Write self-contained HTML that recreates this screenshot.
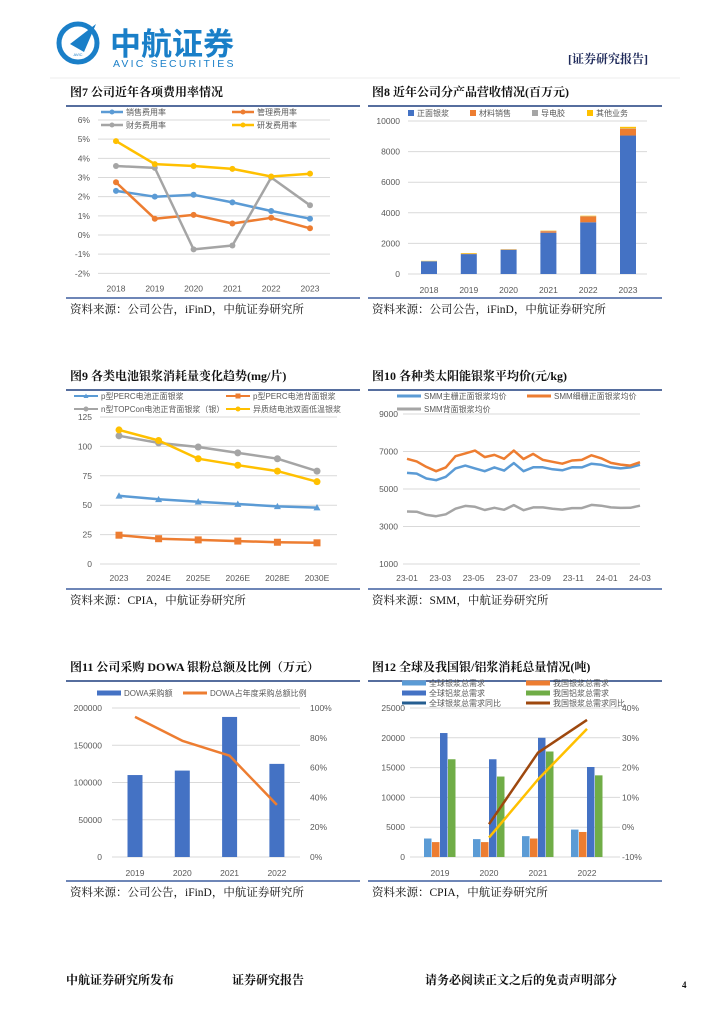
<!DOCTYPE html>
<html><head><meta charset="utf-8"><style>
body{margin:0;background:#fff}
svg{display:block}
text{font-family:"Liberation Sans","Noto Sans CJK SC",sans-serif}
.t{font-family:"Liberation Serif","Noto Serif CJK SC",serif;font-weight:bold;font-size:12px;fill:#111}
.s{font-family:"Liberation Serif","Noto Serif CJK SC",serif;font-size:11.5px;fill:#111}
.k{font-size:8.5px;fill:#595959}
.l{font-size:8px;fill:#595959}
</style></head><body>
<svg id="pg" width="724" height="1024" viewBox="0 0 724 1024">
<g>
<circle cx="78" cy="43" r="19" fill="none" stroke="#1a7fc8" stroke-width="5"/>
<path d="M70 44 L96 24 L84 52 Z" fill="#1a7fc8"/>
<text x="78" y="56" font-size="4" fill="#1a7fc8" text-anchor="middle">AVIC</text>
<text x="110" y="55" font-size="31" font-weight="bold" fill="#1a7fc8" font-family="Noto Sans CJK SC">中航证券</text>
<text x="113" y="67" font-size="10.5" fill="#1a7fc8" letter-spacing="2.2">AVIC SECURITIES</text>
<text x="568" y="63" class="t" fill="#1f2a5a" style="fill:#1f2a5a">[证券研究报告]</text>
<line x1="50" y1="78" x2="680" y2="78" stroke="#eee"/>
</g>
<g>
<text x="66" y="984" class="t">中航证券研究所发布</text>
<text x="232" y="984" class="t">证券研究报告</text>
<text x="425" y="984" class="t">请务必阅读正文之后的免责声明部分</text>
<text x="682" y="988" class="t" style="font-size:9px">4</text>
</g>
</svg>
<script>
// ---- Fig7 data
const f7Years=['2018','2019','2020','2021','2022','2023'];
const f7Sales=[2.3,2.0,2.1,1.7,1.25,0.85];
const f7Admin=[2.75,0.85,1.05,0.6,0.9,0.35];
const f7Fin=[3.6,3.5,-0.75,-0.55,3.0,1.55];
const f7RD=[4.9,3.7,3.6,3.45,3.05,3.2];
const f7Ticks=[6,5,4,3,2,1,0,-1,-2];
// ---- Fig8 data
const f8Years=['2018','2019','2020','2021','2022','2023'];
const f8Front=[830,1300,1570,2700,3380,9050];
const f8Mat=[0,20,20,100,380,450];
const f8Cell=[10,10,30,20,20,20];
const f8Other=[20,40,10,20,30,100];
const f8Ticks=[10000,8000,6000,4000,2000,0];
// ---- Fig9 data
const f9Years=['2023','2024E','2025E','2026E','2028E','2030E'];
const f9PFront=[58,55,53,51,49,48];
const f9PBack=[24.5,21.5,20.5,19.5,18.5,18];
const f9TOP=[109,103,99.5,94.5,89.5,79];
const f9HJT=[114,105,89.5,84,79,70];
const f9Ticks=[125,100,75,50,25,0];
// ---- Fig10 data
const f10Labels=['23-01','23-03','23-05','23-07','23-09','23-11','24-01','24-03'];
const f10Main=[5860,5820,5560,5470,5650,6100,6250,6100,5950,6150,5980,6380,5950,6160,6160,6050,6000,6160,6150,6350,6290,6160,6100,6150,6290];
const f10Fine=[6610,6470,6180,5950,6150,6750,6900,7050,6700,6820,6610,7050,6600,6870,6550,6450,6350,6520,6550,6800,6640,6390,6300,6250,6430];
const f10Back=[3800,3790,3620,3550,3650,3950,4100,4050,3880,4000,3890,4140,3870,4020,4020,3950,3900,3980,3980,4150,4110,4020,3990,4000,4110];
const f10Ticks=[9000,7000,5000,3000,1000];
// ---- Fig11 data
const f11Years=['2019','2020','2021','2022'];
const f11Amount=[110000,116000,188000,125000];
const f11Ratio=[94,78,68,35];
const f11LTicks=[200000,150000,100000,50000,0];
const f11RTicks=['100%','80%','60%','40%','20%','0%'];
// ---- Fig12 data
const f12Years=['2019','2020','2021','2022'];
const f12GlobalAg=[3100,3000,3500,4600];
const f12ChinaAg=[2500,2500,3100,4200];
const f12GlobalAl=[20800,16400,20000,15100];
const f12ChinaAl=[16400,13500,17700,13700];
const f12Brown=[null,1,25,36];
const f12Yellow=[null,-3.5,16,33];
const f12LTicks=[25000,20000,15000,10000,5000,0];
const f12RTicks=['40%','30%','20%','10%','0%','-10%'];

const NS='http://www.w3.org/2000/svg';
const pg=document.getElementById('pg');
function mk(tag,a,parent,txt){const e=document.createElementNS(NS,tag);for(const k in a)e.setAttribute(k,a[k]);if(txt!==undefined)e.textContent=txt;(parent||pg).appendChild(e);return e;}
function lin(d0,d1,r0,r1){return v=>r0+(v-d0)*(r1-r0)/(d1-d0);}
function group(name){const g=mk('g',{});


return g;}
function frame(g,x,y,title,src,rule){
 const t=mk('text',{x:x,y:y,class:'t'},g,title);
 
 
 const r1=mk('line',{x1:x-4,y1:y+10,x2:x+290,y2:y+10,stroke:'#1f3f7f','stroke-width':1.5},g);
 
 
 const r2=mk('line',{x1:x-4,y1:rule,x2:x+290,y2:rule,stroke:'#3f5f9f','stroke-width':1.5},g);
 
 
 const s=mk('text',{x:x,y:rule+15,class:'s'},g,src);
 
 
}
function grid(g,x0,x1,y){const l=mk('line',{x1:x0,y1:y,x2:x1,y2:y,stroke:'#d9d9d9','stroke-width':1},g);

}
function tick(g,x,y,s,anchor){const t=mk('text',{x:x,y:y+3,class:'k','text-anchor':anchor||'end'},g,s);

}
function poly(g,xs,ys,color,w,name){let d='';xs.forEach((x,i)=>{if(ys[i]==null)return;d+=(d?'L':'M')+x.toFixed(1)+' '+ys[i].toFixed(1);});
const p=mk('path',{d:d,fill:'none',stroke:color,'stroke-width':w,'stroke-linejoin':'round'},g);

return p;}
function marker(g,x,y,color,shape,r,name){let e;
 if(shape==='tri')e=mk('path',{d:`M${x} ${y-r}L${x+r} ${y+r*0.8}L${x-r} ${y+r*0.8}Z`,fill:color},g);
 else if(shape==='sq')e=mk('rect',{x:x-r,y:y-r,width:2*r,height:2*r,fill:color},g);
 else e=mk('circle',{cx:x,cy:y,r:r,fill:color},g);
 
 }
function legLine(g,x,y,color,label,shape,w,len){len=len||22;
 const l=mk('line',{x1:x,y1:y,x2:x+len,y2:y,stroke:color,'stroke-width':w||2.5},g);
 
 
 if(shape)marker(g,x+len/2,y,color,shape,2.5,'legend-marker');
 const t=mk('text',{x:x+len+3,y:y+3,class:'l'},g,label);
 
 }
function legBox(g,x,y,color,label,w,h){
 const r=mk('rect',{x:x,y:y-(h||6)/2,width:w||6,height:h||6,fill:color},g);
 
 
 const t=mk('text',{x:x+(w||6)+3,y:y+3,class:'l'},g,label);
 
 }

// ===== Fig7
(function(){const g=group('fig7-expense-ratio-chart');
frame(g,70,96,'图7  公司近年各项费用率情况','资料来源：公司公告，iFinD，中航证券研究所',298);
const y=lin(0,6,235,120), x=i=>116+i*38.8;
f7Ticks.forEach(t=>{grid(g,98,330,y(t));tick(g,90,y(t),t+'%');});
f7Years.forEach((s,i)=>tick(g,x(i),y(-2)+15,s,'middle'));
const xs=f7Years.map((_,i)=>x(i));
[[f7Sales,'#5b9bd5','sales'],[f7Admin,'#ed7d31','admin'],[f7Fin,'#a5a5a5','finance'],[f7RD,'#ffc000','rd']].forEach(([d,c,n])=>{
 poly(g,xs,d.map(y),c,2.5,'series-'+n);
 d.forEach((v,i)=>marker(g,x(i),y(v),c,'c',3,'point-'+n));});
legLine(g,101,112,'#5b9bd5','销售费用率','c');
legLine(g,232,112,'#ed7d31','管理费用率','c');
legLine(g,101,125,'#a5a5a5','财务费用率','c');
legLine(g,232,125,'#ffc000','研发费用率','c');
})();

// ===== Fig8
(function(){const g=group('fig8-revenue-by-product-chart');
frame(g,372,96,'图8  近年公司分产品营收情况(百万元)','资料来源：公司公告，iFinD，中航证券研究所',298);
const y=lin(0,10000,274,121), x=i=>429+i*39.8;
f8Ticks.forEach(t=>{grid(g,408,647,y(t));tick(g,400,y(t),String(t));});
f8Years.forEach((s,i)=>tick(g,x(i),290,s,'middle'));
f8Years.forEach((s,i)=>{let base=0;
 [[f8Front,'#4472c4','front-silver'],[f8Mat,'#ed7d31','material'],[f8Cell,'#a5a5a5','cell'],[f8Other,'#ffc000','other']].forEach(([d,c,n])=>{
  const v=d[i];if(v<=0)return;const r=mk('rect',{x:x(i)-8,y:y(base+v),width:16,height:y(base)-y(base+v),fill:c},g);
  
  
  base+=v;});});
legBox(g,408,113,'#4472c4','正面银浆');legBox(g,470,113,'#ed7d31','材料销售');legBox(g,532,113,'#a5a5a5','导电胶');legBox(g,587,113,'#ffc000','其他业务');
})();

// ===== Fig9
(function(){const g=group('fig9-silver-consumption-chart');
frame(g,70,380,'图9  各类电池银浆消耗量变化趋势(mg/片)','资料来源：CPIA，中航证券研究所',589);
const y=lin(0,125,564,417), x=i=>119+i*39.6;
f9Ticks.forEach(t=>{grid(g,100,337,y(t));tick(g,92,y(t),String(t));});
f9Years.forEach((s,i)=>tick(g,x(i),578,s,'middle'));
const xs=f9Years.map((_,i)=>x(i));
[[f9PFront,'#5b9bd5','perc-front','tri'],[f9PBack,'#ed7d31','perc-back','sq'],[f9TOP,'#a5a5a5','topcon','c'],[f9HJT,'#ffc000','hjt','c']].forEach(([d,c,n,sh])=>{
 poly(g,xs,d.map(y),c,2.5,'series-'+n);
 d.forEach((v,i)=>marker(g,x(i),y(v),c,sh,3.5,'point-'+n));});
legLine(g,74,396,'#5b9bd5','p型PERC电池正面银浆','tri',2,24);
legLine(g,226,396,'#ed7d31','p型PERC电池背面银浆','sq',2,24);
legLine(g,74,409,'#a5a5a5','n型TOPCon电池正背面银浆（银）','c',2,24);
legLine(g,226,409,'#ffc000','异质结电池双面低温银浆','c',2,24);
})();

// ===== Fig10
(function(){const g=group('fig10-silver-paste-price-chart');
frame(g,372,380,'图10  各种类太阳能银浆平均价(元/kg)','资料来源：SMM，中航证券研究所',589);
const y=lin(1000,9000,564,414), x=i=>407+i*(233/(f10Main.length-1));
f10Ticks.forEach(t=>{grid(g,403,640,y(t));tick(g,398,y(t),String(t));});
f10Labels.forEach((s,i)=>tick(g,407+i*233/7,578,s,'middle'));
const xs=f10Main.map((_,i)=>x(i));
poly(g,xs,f10Back.map(y),'#a5a5a5',2.5,'series-back-silver');
poly(g,xs,f10Main.map(y),'#5b9bd5',2.5,'series-main-grid-front');
poly(g,xs,f10Fine.map(y),'#ed7d31',2.5,'series-fine-grid-front');
legLine(g,397,396,'#5b9bd5','SMM主栅正面银浆均价',null,3,24);
legLine(g,527,396,'#ed7d31','SMM细栅正面银浆均价',null,3,24);
legLine(g,397,409,'#a5a5a5','SMM背面银浆均价',null,3,24);
})();

// ===== Fig11
(function(){const g=group('fig11-dowa-purchase-chart');
frame(g,70,671,'图11  公司采购 DOWA 银粉总额及比例（万元）','资料来源：公司公告，iFinD，中航证券研究所',881);
const y=lin(0,200000,857,708), yr=lin(0,100,857,708), x=i=>135+i*47.3;
f11LTicks.forEach(t=>{grid(g,112,300,y(t));tick(g,102,y(t),String(t));});
f11RTicks.forEach((s,i)=>tick(g,310,708+i*149/5,s,'start'));
f11Years.forEach((s,i)=>tick(g,x(i),873,s,'middle'));
f11Amount.forEach((v,i)=>{const r=mk('rect',{x:x(i)-7.5,y:y(v),width:15,height:y(0)-y(v),fill:'#4472c4'},g);
 
 });
poly(g,f11Years.map((_,i)=>x(i)),f11Ratio.map(yr),'#ed7d31',2.5,'series-dowa-ratio');
legBox(g,97,693,'#4472c4','DOWA采购额',24,5);
legLine(g,183,693,'#ed7d31','DOWA占年度采购总额比例',null,3,24);
})();

// ===== Fig12
(function(){const g=group('fig12-paste-consumption-chart');
frame(g,372,671,'图12  全球及我国银/铝浆消耗总量情况(吨)','资料来源：CPIA，中航证券研究所',881);
const y=lin(0,25000,857,708), yr=lin(-10,40,857,708), x=i=>440+i*49;
f12LTicks.forEach(t=>{grid(g,410,620,y(t));tick(g,405,y(t),String(t));});
f12RTicks.forEach((s,i)=>tick(g,622,708+i*149/5,s,'start'));
f12Years.forEach((s,i)=>tick(g,x(i),873,s,'middle'));
[[f12GlobalAg,'#5b9bd5','global-silver'],[f12ChinaAg,'#ed7d31','china-silver'],[f12GlobalAl,'#4472c4','global-aluminum'],[f12ChinaAl,'#70ad47','china-aluminum']].forEach(([d,c,n],k)=>{
 d.forEach((v,i)=>{const r=mk('rect',{x:x(i)-16+k*8,y:y(v),width:7.5,height:y(0)-y(v),fill:c},g);
  
  });});
const xs=f12Years.map((_,i)=>x(i));
poly(g,xs,f12Yellow.map(v=>v==null?null:yr(v)),'#ffc000',2.5,'series-yellow-yoy');
poly(g,xs,f12Brown.map(v=>v==null?null:yr(v)),'#9e480e',2.5,'series-china-yoy');
legBox(g,402,683,'#5b9bd5','全球银浆总需求',24,5);legBox(g,526,683,'#ed7d31','我国银浆总需求',24,5);
legBox(g,402,693,'#4472c4','全球铝浆总需求',24,5);legBox(g,526,693,'#70ad47','我国铝浆总需求',24,5);
legLine(g,402,703,'#255e91','全球银浆总需求同比',null,3,24);legLine(g,526,703,'#9e480e','我国银浆总需求同比',null,3,24);
})();
</script>
</body></html>
